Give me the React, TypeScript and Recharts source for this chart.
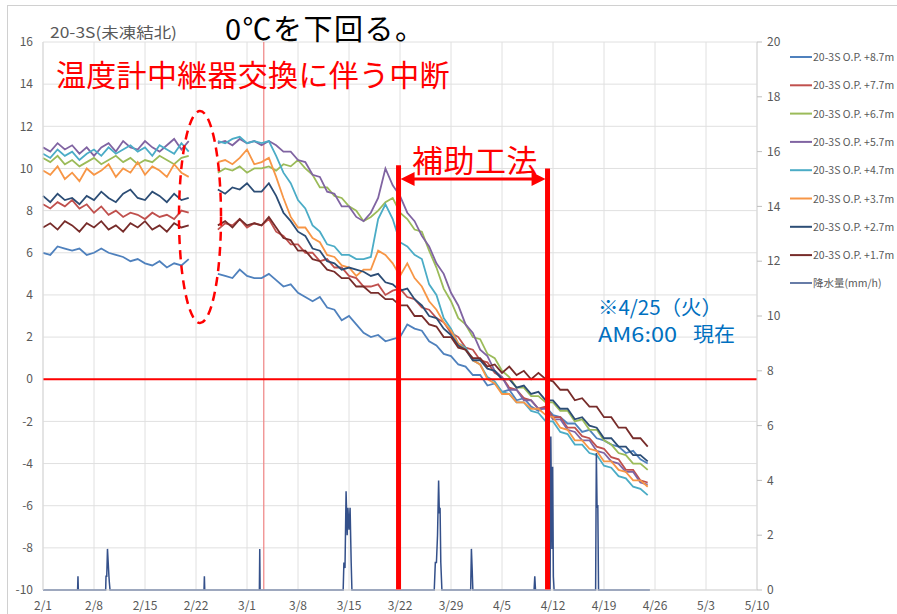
import { ComposedChart, Line, XAxis, YAxis, CartesianGrid, ReferenceLine } from 'recharts';

// x = days since 2/1
const xTicks = [0, 7, 14, 21, 28, 35, 42, 49, 56, 63, 70, 77, 84, 91, 98];
const tickLabels = ['2/1', '2/8', '2/15', '2/22', '3/1', '3/8', '3/15', '3/22', '3/29', '4/5', '4/12', '4/19', '4/26', '5/3', '5/10'];
const leftTicks = [-10, -8, -6, -4, -2, 0, 2, 4, 6, 8, 10, 12, 14, 16];
const rightTicks = [0, 2, 4, 6, 8, 10, 12, 14, 16, 18, 20];

// daily temperature (℃), days 0..83; null = relay replacement gap
const op87 = [6.0, 5.9, 6.3, 6.2, 6.1, 6.2, 5.9, 6.0, 6.2, 6.0, 5.9, 5.8, 5.6, 5.7, 5.5, 5.4, 5.6, 5.3, 5.5, 5.4, 5.7,
  null, null, null,
  5.0, 4.9, 4.8, 5.2, 4.9, 4.8, 4.8, 5.0,
  4.7, 4.4, 4.5, 4.1, 3.9, 3.7, 3.9, 3.4, 3.3, 2.8, 3.0, 2.6, 2.2, 2.0, 2.1, 1.8, 1.9,
  2.0, 2.6, 2.4, 2.3, 1.8, 1.6, 1.2, 1.1,
  0.7, 0.6, 0.2, 0.2, -0.3, -0.2,
  -0.6, -0.5, -1.0, -0.9, -1.3, -1.5, -1.3,
  -1.7, -1.8, -2.1, -2.1, -2.5, -2.4, -2.8, -2.9, -3.1, -3.2, -3.5, -3.4, -3.8, -4.0];
const op77 = [8.3, 8.1, 8.4, 8.2, 8.5, 8.1, 8.3, 7.9, 8.2, 7.8, 8.0, 7.7, 7.9, 7.8, 7.6, 7.9, 7.7, 7.8, 7.6, 8.0, 7.9,
  null, null, null,
  7.1, 7.4, 7.3, 7.6, 7.2, 7.4, 7.3, 7.6,
  7.0, 6.8, 6.4, 6.4, 6.0, 6.0, 5.6, 5.7, 5.3, 5.3, 4.9, 4.8, 4.4, 4.4, 4.5, 4.0, 4.2,
  4.3, 3.9, 3.8, 3.4, 3.3, 2.9, 2.7, 2.2,
  2.0, 1.5, 1.4, 0.9, 0.8, 0.3,
  0.1, -0.4, -0.5, -0.9, -1.0, -1.4, -1.3,
  -1.8, -1.8, -2.3, -2.3, -2.7, -2.8, -3.2, -3.3, -3.7, -3.8, -4.3, -4.3, -4.8, -4.9];
const op67 = [10.5, 10.3, 10.6, 10.2, 10.4, 10.1, 10.3, 10.5, 10.2, 10.4, 10.6, 10.3, 10.5, 10.2, 10.4, 10.3, 10.6, 10.4, 10.2, 10.5, 10.6,
  null, null, null,
  9.8, 10.0, 9.9, 10.1, 9.8, 10.0, 10.0, 10.1,
  9.9, 10.2, 10.1, 10.4, 10.0, 9.7, 9.1, 9.1, 8.7, 8.6, 8.2, 8.0, 7.5, 7.7, 8.0, 8.4, 8.6,
  7.9, 7.6, 7.1, 7.0, 6.1, 5.3, 4.3, 3.7,
  2.9, 2.6, 2.0, 1.9, 1.2, 1.0,
  0.4, 0.1, -0.4, -0.4, -0.8, -0.8, -1.1,
  -1.1, -1.5, -1.5, -2.0, -1.9, -2.4, -2.4, -2.9, -3.1, -3.5, -3.6, -4.0, -4.0, -4.3];
const op57 = [11.0, 10.8, 11.2, 10.9, 11.1, 10.7, 11.0, 10.6, 11.0, 11.2, 10.8, 11.3, 11.0, 10.9, 11.3, 11.0, 10.8, 11.1, 11.4, 10.9, 11.3,
  null, null, null,
  11.2, 11.3, 11.1, 11.4, 11.2, 11.3, 11.1, 11.3,
  11.1, 10.8, 10.8, 10.4, 10.3, 9.7, 9.6, 8.9, 8.8, 8.2, 8.2, 7.7, 7.5, 7.9, 8.6, 10.0, 9.2,
  8.7, 7.9, 7.5, 6.8, 6.3, 5.5, 5.0, 4.1,
  3.5, 2.6, 2.2, 1.4, 1.1, 0.4,
  0.1, -0.5, -0.5, -1.0, -1.0, -1.4, -1.4,
  -1.9, -1.9, -2.4, -2.5, -2.9, -2.9, -3.4, -3.5, -3.9, -4.0, -4.4, -4.4, -4.9, -5.0];
const op47 = [10.7, 10.5, 10.9, 10.6, 10.8, 10.4, 10.7, 10.9, 10.6, 11.0, 10.7, 10.9, 11.1, 10.8, 11.0, 10.6, 11.1, 10.9, 10.7, 11.2, 10.8,
  null, null, null,
  11.3, 11.2, 11.4, 11.5, 11.2, 11.3, 11.2, 11.3,
  10.6, 9.8, 9.3, 8.5, 8.1, 7.3, 7.0, 6.4, 6.3, 5.9, 5.9, 5.7, 5.7, 5.8, 7.6, 8.3, 7.6,
  6.5, 6.3, 5.9, 5.7, 4.5, 4.0, 2.9, 2.4,
  1.7, 1.5, 0.9, 0.7, 0.1, -0.1,
  -0.6, -0.7, -1.1, -1.1, -1.5, -1.6, -2.0,
  -2.0, -2.5, -2.6, -3.1, -3.1, -3.5, -3.6, -4.1, -4.2, -4.6, -4.7, -5.1, -5.2, -5.5];
const op37 = [9.9, 9.7, 10.1, 9.5, 9.8, 9.4, 10.0, 9.7, 9.9, 10.2, 9.6, 10.0, 9.8, 10.3, 9.7, 10.1, 9.9, 9.6, 10.2, 9.8, 9.6,
  null, null, null,
  10.3, 10.4, 10.2, 10.5, 10.9, 10.2, 10.3, 10.5,
  9.6, 8.6, 7.7, 7.2, 7.2, 6.7, 6.5, 5.9, 5.8, 5.4, 5.3, 4.9, 5.2, 5.2, 6.1, 5.9, 5.5,
  4.9, 5.5, 4.8, 4.4, 3.7, 3.3, 2.7, 2.3,
  1.7, 1.4, 0.9, 0.7, 0.0, -0.2,
  -0.7, -0.7, -1.1, -1.1, -1.4, -1.4, -1.7,
  -1.8, -2.3, -2.4, -2.9, -2.9, -3.3, -3.4, -3.9, -3.9, -4.3, -4.4, -4.8, -4.8, -5.1];
const op27 = [8.7, 8.4, 8.8, 8.5, 8.6, 8.3, 8.7, 8.5, 8.9, 8.6, 8.4, 8.8, 9.0, 8.6, 8.5, 8.9, 8.7, 8.4, 8.8, 8.5, 8.6,
  null, null, null,
  9.0, 8.8, 9.1, 9.0, 9.3, 8.9, 8.9, 9.3,
  8.7, 7.9, 7.5, 7.0, 6.8, 6.2, 6.1, 5.6, 5.5, 5.2, 5.3, 5.2, 5.1, 4.9, 5.0, 4.6, 4.5,
  4.2, 4.3, 3.8, 3.5, 3.0, 2.9, 2.4, 2.1,
  1.6, 1.4, 0.9, 0.9, 0.5, 0.4,
  0.0, 0.0, -0.4, -0.3, -0.7, -0.6, -1.0,
  -1.0, -1.4, -1.4, -1.9, -1.8, -2.2, -2.3, -2.8, -2.8, -3.2, -3.2, -3.6, -3.6, -3.9];
const op17 = [7.2, 7.4, 7.1, 7.5, 7.3, 7.0, 7.4, 7.2, 7.5, 7.1, 7.3, 7.0, 7.4, 7.2, 7.5, 7.1, 7.3, 7.0, 7.4, 7.2, 7.3,
  null, null, null,
  7.3, 7.5, 7.2, 7.6, 7.3, 7.4, 7.3, 7.7,
  7.2, 6.7, 6.6, 6.1, 6.1, 5.7, 5.6, 5.2, 5.1, 4.8, 4.8, 4.4, 4.4, 4.1, 4.1, 3.8, 3.8,
  3.5, 3.5, 3.0, 3.0, 2.6, 2.5, 2.0, 2.0,
  1.5, 1.4, 1.0, 1.0, 0.6, 0.7,
  0.3, 0.6, 0.2, 0.4, 0.0, 0.3, 0.0,
  -0.1, -0.5, -0.5, -1.0, -0.9, -1.3, -1.3, -1.8, -1.8, -2.3, -2.3, -2.8, -2.8, -3.2];

// precipitation (mm/h), right axis
const rainDays = [0, 4.75, 4.8, 4.85, 8.6, 8.65, 8.75, 8.85, 8.95, 9.05, 9.1, 9.2, 22.1, 22.15, 22.2, 29.7, 29.75, 29.8,
  41.2, 41.3, 41.45, 41.6, 41.75, 41.85, 42.0, 42.15, 42.3, 42.4,
  53.7, 53.85, 54.0, 54.15, 54.3, 54.4, 54.5, 54.6, 54.75,
  58.7, 58.8, 58.9, 59.0, 67.4, 67.5, 67.6,
  69.6, 69.7, 69.85, 69.95, 70.05, 70.15, 75.85, 75.95, 76.05, 76.15, 76.25, 83.3];
const rainMm = [0, 0, 0.5, 0, 0, 0.5, 0.5, 1.5, 1.0, 0.5, 0.3, 0, 0, 0.5, 0, 0, 1.5, 0,
  0, 1.0, 0.8, 3.6, 2.0, 3.0, 2.2, 3.0, 1.0, 0,
  0, 1.0, 1.0, 2.0, 4.0, 2.8, 3.0, 1.0, 0,
  0, 1.5, 0.8, 0, 0, 0.5, 0,
  0, 5.6, 1.5, 4.5, 0.5, 0, 0, 5.0, 3.0, 3.1, 0, 0];

const seriesNames = ['20-3S O.P. +8.7m', '20-3S O.P. +7.7m', '20-3S O.P. +6.7m', '20-3S O.P. +5.7m',
  '20-3S O.P. +4.7m', '20-3S O.P. +3.7m', '20-3S O.P. +2.7m', '20-3S O.P. +1.7m'];
const seriesData = [op87, op77, op67, op57, op47, op37, op27, op17];
const seriesColors = ['#4F81BD', '#C0504D', '#9BBB59', '#8064A2', '#4BACC6', '#F79646', '#2C4D75', '#772C2A'];
const rainName = '降水量(mm/h)';
const rainColor = '#34508A';

// annotation positions (days since 2/1)
const relayDay = 30.3;
const methodStart = 48.8;
const methodEnd = 69.25;

const rows = op87.map((_, i) => {
  const r: Record<string, number | null> = { day: i };
  seriesData.forEach((s, k) => { r['s' + k] = s[i]; });
  return r;
});
const rainRows = rainDays.map((d, i) => ({ day: d, mm: rainMm[i] }));

const W = 897;
const H = 614;
const PLOT_L = 43;
const PLOT_R = 757;
const dayX = (d: number) => PLOT_L + (d / 98) * (PLOT_R - PLOT_L);
const FONT = '"Noto Sans CJK JP", "Noto Sans", sans-serif';

export default function App() {
  const ax = { fill: '#595959', fontSize: 12, fontFamily: FONT };
  const a1 = dayX(methodStart) + 2;
  const a2 = dayX(methodEnd) - 2;
  return (
    <div style={{ position: 'absolute', left: 0, top: 0, width: W, height: H, overflow: 'hidden', background: '#fff' }}>
      <div style={{ position: 'absolute', left: 7, top: 5, width: W, height: H, border: '1px solid #D0D0D0' }} />
      <ComposedChart width={W} height={H} data={rows} margin={{ top: 42, right: 0, bottom: 0, left: 0 }}>
        <CartesianGrid stroke="#E0E0E0" yAxisId="left" />
        <XAxis dataKey="day" type="number" domain={[0, 98]} ticks={xTicks} height={24}
          tickFormatter={(v: number) => tickLabels[xTicks.indexOf(v)]}
          tick={ax} tickLine={false} tickMargin={5} axisLine={{ stroke: '#D9D9D9' }} />
        <YAxis yAxisId="left" domain={[-10, 16]} ticks={leftTicks} width={43} tick={ax}
          tickLine={false} tickMargin={4} axisLine={{ stroke: '#D9D9D9' }} interval={0} />
        <YAxis yAxisId="right" orientation="right" domain={[0, 20]} ticks={rightTicks} width={140} tick={ax}
          tickLine={{ stroke: '#BFBFBF' }} tickSize={5} tickMargin={5} axisLine={{ stroke: '#D9D9D9' }} interval={0} />
        <ReferenceLine yAxisId="left" x={relayDay} stroke="#F08C8C" strokeWidth={1.3} />
        {seriesData.map((_, k) => (
          <Line key={k} yAxisId="left" dataKey={'s' + k} name={seriesNames[k]} stroke={seriesColors[k]}
            strokeWidth={1.8} dot={false} connectNulls={false} isAnimationActive={false} />
        ))}
        <Line yAxisId="right" data={rainRows} dataKey="mm" name={rainName} stroke={rainColor}
          strokeWidth={1.5} dot={false} isAnimationActive={false} />
        <ReferenceLine yAxisId="left" y={0} stroke="#FF0000" strokeWidth={2} />
        <ReferenceLine yAxisId="left" segment={[{ x: methodStart, y: 10.15 }, { x: methodStart, y: -10 }]}
          stroke="#FF0000" strokeWidth={5} />
        <ReferenceLine yAxisId="left" segment={[{ x: methodEnd, y: 10.0 }, { x: methodEnd, y: -10 }]}
          stroke="#FF0000" strokeWidth={5} />
      </ComposedChart>

      <svg width={W} height={H} style={{ position: 'absolute', left: 0, top: 0, pointerEvents: 'none' }}>
        <ellipse cx={200} cy={217} rx={21} ry={106} fill="none" stroke="#FF0000" strokeWidth={2.5} strokeDasharray="9 6" />
        <line x1={a1 + 10} y1={179} x2={a2 - 10} y2={179} stroke="#FF0000" strokeWidth={3} />
        <polygon points={`${a1},179 ${a1 + 14},172 ${a1 + 14},186`} fill="#FF0000" />
        <polygon points={`${a2},179 ${a2 - 14},172 ${a2 - 14},186`} fill="#FF0000" />
        <text x={50} y={38} fontSize={15} fill="#595959" fontFamily={FONT} textLength={127} lengthAdjust="spacingAndGlyphs">20-3S(未凍結北)</text>
        <text x={225} y={40} fontSize={29} fill="#000" fontFamily={FONT} letterSpacing={1.5}>0℃を下回る。</text>
        <text x={56} y={86} fontSize={30} fill="#FF0000" fontFamily={FONT} letterSpacing={0.3}>温度計中継器交換に伴う中断</text>
        <text x={412} y={172} fontSize={31} fill="#FF0000" fontFamily={FONT} letterSpacing={0.5}>補助工法</text>
        <text x={598} y={315} fontSize={20} fill="#0070C0" fontFamily={FONT} textLength={124} lengthAdjust="spacingAndGlyphs">※4/25（火）</text>
        <text x={598} y={342} fontSize={20} fill="#0070C0" fontFamily={FONT} textLength={79} lengthAdjust="spacingAndGlyphs">AM6:00</text>
        <text x={693} y={342} fontSize={20} fill="#0070C0" fontFamily={FONT} textLength={42} lengthAdjust="spacingAndGlyphs">現在</text>
        {seriesNames.map((n, k) => (
          <g key={n}>
            <line x1={790} x2={812} y1={57 + k * 28.3} y2={57 + k * 28.3} stroke={seriesColors[k]} strokeWidth={2} />
            <text x={813} y={61 + k * 28.3} fontSize={10.5} fill="#595959" fontFamily={FONT}>{n}</text>
          </g>
        ))}
        <line x1={790} x2={812} y1={283} y2={283} stroke={rainColor} strokeWidth={1.5} />
        <text x={813} y={287} fontSize={10.5} fill="#595959" fontFamily={FONT}>{rainName}</text>
      </svg>
    </div>
  );
}
